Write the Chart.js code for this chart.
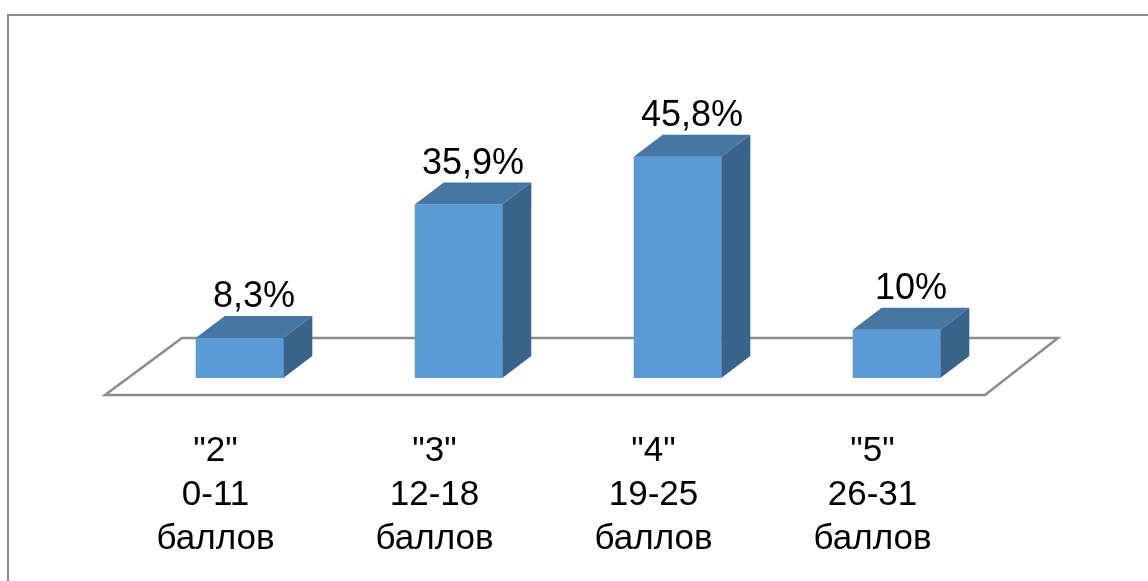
<!DOCTYPE html>
<html>
<head>
<meta charset="utf-8">
<script src="https://cdn.jsdelivr.net/npm/chart.js@4/dist/chart.umd.min.js"></script>
<style>
  html, body { margin: 0; padding: 0; background: #fff; overflow: hidden; }
  #wrap { width: 1148px; height: 581px; }
</style>
</head>
<body>
<div id="wrap"><canvas id="chart"></canvas></div>
<script>
const categories = [
  ['"2"', '0-11', 'баллов'],
  ['"3"', '12-18', 'баллов'],
  ['"4"', '19-25', 'баллов'],
  ['"5"', '26-31', 'баллов']
];
const values = [8.3, 35.9, 45.8, 10];
const valueLabels = ['8,3%', '35,9%', '45,8%', '10%'];

const FRONT = '#5b9bd5';
const TOP = '#4676a2';
const SIDE = '#3a6389';
const DX = 29, DY = -22;

// frame + floor drawn behind the bars
const floorPlugin = {
  id: 'floor',
  beforeDatasetsDraw(chart) {
    const { ctx, chartArea: a, scales } = chart;
    const base = scales.y.getPixelForValue(0);
    ctx.save();
    ctx.strokeStyle = '#8c8c8c';
    ctx.lineWidth = 2;
    ctx.beginPath();
    ctx.moveTo(8, chart.height + 5);
    ctx.lineTo(8, 15);
    ctx.lineTo(chart.width + 5, 15);
    ctx.stroke();

    ctx.lineWidth = 2.5;
    ctx.beginPath();
    ctx.moveTo(a.left - 25, base + 17);
    ctx.lineTo(a.right - 21, base + 17);
    ctx.lineTo(a.right + 52, base - 40);
    ctx.lineTo(a.left + 52, base - 40);
    ctx.closePath();
    ctx.stroke();
    ctx.restore();
  },
  afterDatasetsDraw(chart) {
    const { ctx } = chart;
    const meta = chart.getDatasetMeta(0);
    ctx.save();
    meta.data.forEach((bar, i) => {
      const p = bar.getProps(['x', 'y', 'base', 'width'], true);
      const l = p.x - p.width / 2, r = p.x + p.width / 2;
      ctx.fillStyle = TOP;
      ctx.beginPath();
      ctx.moveTo(l, p.y);
      ctx.lineTo(l + DX, p.y + DY);
      ctx.lineTo(r + DX, p.y + DY);
      ctx.lineTo(r, p.y);
      ctx.closePath();
      ctx.fill();
      ctx.fillStyle = SIDE;
      ctx.beginPath();
      ctx.moveTo(r, p.y);
      ctx.lineTo(r + DX, p.y + DY);
      ctx.lineTo(r + DX, p.base + DY);
      ctx.lineTo(r, p.base);
      ctx.closePath();
      ctx.fill();

      ctx.fillStyle = '#000';
      ctx.font = '36px "Liberation Sans", Arial, sans-serif';
      ctx.textAlign = 'center';
      ctx.textBaseline = 'alphabetic';
      ctx.fillText(valueLabels[i], p.x + DX / 2, p.y + DY - 9);
    });
    ctx.restore();
  }
};

new Chart(document.getElementById('chart'), {
  type: 'bar',
  data: {
    labels: categories,
    datasets: [{
      data: values,
      backgroundColor: FRONT,
      borderWidth: 0,
      barPercentage: 0.8,
      categoryPercentage: 0.5
    }]
  },
  options: {
    responsive: true,
    maintainAspectRatio: false,
    animation: false,
    layout: { padding: { left: 130, right: 142, top: 136.5, bottom: 0 } },
    plugins: { legend: { display: false }, tooltip: { enabled: false } },
    scales: {
      x: {
        grid: { display: false, drawTicks: false },
        border: { display: false },
        afterFit(scale) { scale.height = 203; },
        ticks: {
          color: '#000',
          padding: 51,
          labelOffset: -24,
          font: { family: '"Liberation Sans", Arial, sans-serif', size: 35, lineHeight: 44 / 35 }
        }
      },
      y: {
        display: false,
        min: 0,
        max: 50
      }
    }
  },
  plugins: [floorPlugin]
});
</script>
</body>
</html>
